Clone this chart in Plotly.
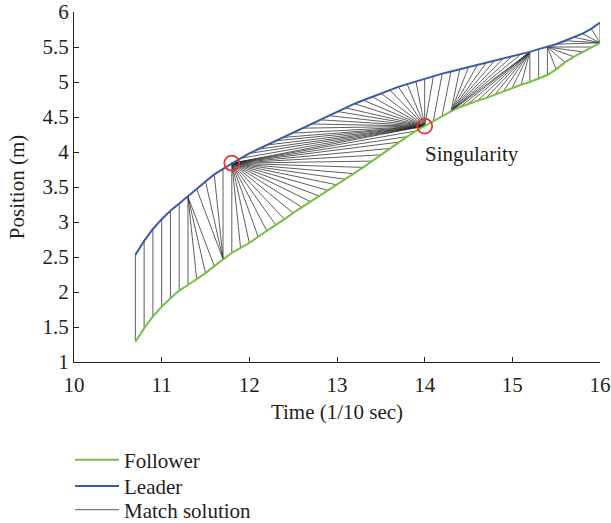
import plotly.graph_objects as go

# ---- data ----
time = [10.7, 10.8, 10.9, 11.0, 11.1, 11.2, 11.3, 11.4, 11.5, 11.6,
        11.7, 11.8, 11.9, 12.0, 12.1, 12.2, 12.3, 12.4, 12.5, 12.6,
        12.7, 12.8, 12.9, 13.0, 13.1, 13.2, 13.3, 13.4, 13.5, 13.6,
        13.7, 13.8, 13.9, 14.0, 14.1, 14.2, 14.3, 14.4, 14.5, 14.6,
        14.7, 14.8, 14.9, 15.0, 15.1, 15.2, 15.3, 15.4, 15.5, 15.6,
        15.7, 15.8, 15.9, 16.0]

leader = [2.53, 2.73, 2.90, 3.04, 3.16, 3.26, 3.36, 3.47, 3.58, 3.68,
          3.76, 3.84, 3.91, 3.98, 4.04, 4.10, 4.16, 4.21, 4.27, 4.34,
          4.40, 4.46, 4.52, 4.58, 4.63, 4.69, 4.74, 4.79, 4.84, 4.89,
          4.93, 4.97, 5.01, 5.05, 5.08, 5.12, 5.15, 5.18, 5.21, 5.24,
          5.27, 5.31, 5.34, 5.37, 5.40, 5.43, 5.47, 5.50, 5.54, 5.59,
          5.64, 5.69, 5.76, 5.85]

follower = [1.29, 1.48, 1.65, 1.79, 1.91, 2.02, 2.10, 2.18, 2.27, 2.37,
            2.47, 2.56, 2.63, 2.70, 2.79, 2.87, 2.96, 3.04, 3.13, 3.21,
            3.29, 3.37, 3.45, 3.53, 3.61, 3.69, 3.78, 3.87, 3.96, 4.05,
            4.14, 4.22, 4.30, 4.37, 4.45, 4.52, 4.58, 4.64, 4.69, 4.73,
            4.77, 4.82, 4.87, 4.92, 4.96, 5.00, 5.05, 5.10, 5.18, 5.28,
            5.36, 5.43, 5.50, 5.56]

# warping path corners: (leader sample index, follower sample index)
path_corners = [(0, 0), (6, 6), (6, 9), (7, 10), (10, 10), (11, 11),
                (11, 33), (33, 33), (34, 33), (37, 36), (45, 36),
                (45, 45), (47, 47), (47, 52), (48, 53), (53, 53)]

singular_leader_idx = 11
singular_follower_idx = 33

x_ticks = [10, 11, 12, 13, 14, 15, 16]
y_ticks = [1, 1.5, 2, 2.5, 3, 3.5, 4, 4.5, 5, 5.5, 6]

# ---- expand path ----
pairs = [path_corners[0]]
for (ti, tj) in path_corners[1:]:
    i, j = pairs[-1]
    while (i, j) != (ti, tj):
        if i < ti:
            i += 1
        if j < tj:
            j += 1
        pairs.append((i, j))

mx, my = [], []
for i, j in pairs:
    mx += [time[i], time[j], None]
    my += [leader[i], follower[j], None]

FONT = "Liberation Serif"
FS = 21
TXT = "#231f20"
GREEN = "#78bf45"
BLUE = "#3b5ba8"

fig = go.Figure()
fig.add_trace(go.Scatter(x=mx, y=my, mode="lines", name="Match solution",
                         line=dict(color="#2a2a2a", width=0.75),
                         legend="legend3"))
fig.add_trace(go.Scatter(x=time, y=follower, mode="lines", name="Follower",
                         line=dict(color=GREEN, width=2), legend="legend"))
fig.add_trace(go.Scatter(x=time, y=leader, mode="lines", name="Leader",
                         line=dict(color=BLUE, width=2), legend="legend2"))
fig.add_trace(go.Scatter(
    x=[time[singular_leader_idx], time[singular_follower_idx]],
    y=[leader[singular_leader_idx], follower[singular_follower_idx]],
    mode="markers", showlegend=False,
    marker=dict(size=15, color="rgba(0,0,0,0)",
                line=dict(color="#e8332a", width=1.8))))

fig.add_annotation(x=13.98, y=3.97, text="Singularity", showarrow=False,
                   xanchor="left", yanchor="middle",
                   font=dict(family=FONT, size=FS, color=TXT))

axis_common = dict(showline=True, linecolor=TXT, linewidth=1,
                   ticks="inside", ticklen=5, tickcolor=TXT,
                   showgrid=False, zeroline=False, automargin=False,
                   tickfont=dict(family=FONT, size=FS, color=TXT))


def leg(yc):
    return dict(x=-0.0076, y=yc, xanchor="left", yanchor="middle",
                itemwidth=44, font=dict(family=FONT, size=FS, color=TXT),
                bgcolor="rgba(0,0,0,0)", borderwidth=0)


fig.update_layout(
    width=611, height=523,
    margin=dict(l=74, r=11, t=12, b=161, autoexpand=False),
    paper_bgcolor="white", plot_bgcolor="white",
    font=dict(family=FONT, size=FS, color=TXT),
    xaxis=dict(range=[10, 16], tickvals=x_ticks, ticklabelstandoff=4,
               title=dict(text="Time (1/10 sec)", standoff=8,
                          font=dict(family=FONT, size=FS)),
               **axis_common),
    yaxis=dict(range=[1, 6], tickvals=y_ticks,
               title=dict(text="Position (m)", standoff=12,
                          font=dict(family=FONT, size=FS)),
               **axis_common),
    legend=leg(-0.28),
    legend2=leg(-0.355),
    legend3=leg(-0.423),
    showlegend=True,
)

fig.write_html("out.html")
